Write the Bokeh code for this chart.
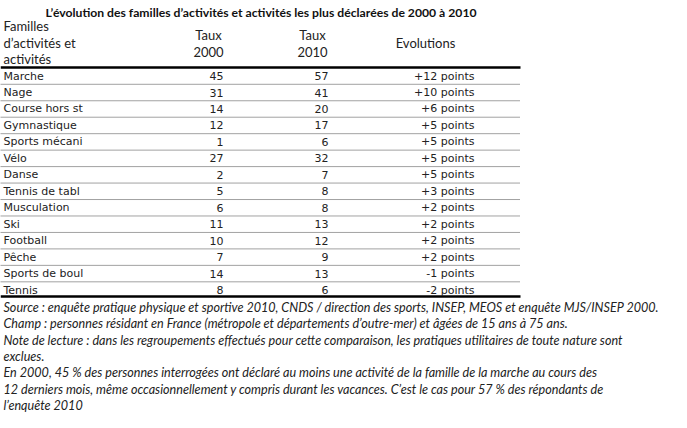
from bokeh.plotting import figure
from bokeh.models import ColumnDataSource, Range1d
from bokeh.core.properties import value
from bokeh.embed import file_html
from bokeh.resources import INLINE

title = "L\u2019évolution des familles d\u2019activités et activités les plus déclarées de 2000 à 2010"
header_col1 = ["Familles", "d\u2019activités et", "activités"]
header_taux = ["Taux", "Taux"]
header_years = ["2000", "2010"]
header_evol = "Evolutions"

activities = ["Marche", "Nage", "Course hors st", "Gymnastique", "Sports mécani", "Vélo",
              "Danse", "Tennis de tabl", "Musculation", "Ski", "Football", "Pêche",
              "Sports de boul", "Tennis"]
taux_2000 = [45, 31, 14, 12, 1, 27, 2, 5, 6, 11, 10, 7, 14, 8]
taux_2010 = [57, 41, 20, 17, 6, 32, 7, 8, 8, 13, 12, 9, 13, 6]
evolutions = ["+12 points", "+10 points", "+6 points", "+5 points", "+5 points", "+5 points",
              "+5 points", "+3 points", "+2 points", "+2 points", "+2 points", "+2 points",
              "-1 points", "-2 points"]

notes = [
    "Source : enquête pratique physique et sportive 2010, CNDS / direction des sports, INSEP, MEOS et enquête MJS/INSEP 2000.",
    "Champ : personnes résidant en France (métropole et départements d\u2019outre-mer) et âgées de 15 ans à 75 ans.",
    "Note de lecture : dans les regroupements effectués pour cette comparaison, les pratiques utilitaires de toute nature sont",
    "exclues.",
    "En 2000, 45 % des personnes interrogées ont déclaré au moins une activité de la famille de la marche au cours des",
    "12 derniers mois, même occasionnellement y compris durant les vacances. C\u2019est le cas pour 57 % des répondants de",
    "l\u2019enquête 2010",
]

# layout (page-like coordinates, y downward)
ROW0, PITCH = 78.5, 17.1
n = len(activities)
row_y = [ROW0 + i * PITCH for i in range(n)]

p = figure(width=671, height=412, output_backend="svg", toolbar_location=None,
           x_range=Range1d(0, 671), y_range=Range1d(428, 0),
           min_border=0, background_fill_color="white", border_fill_color="white")
p.axis.visible = False
p.grid.visible = False
p.outline_line_color = None

# title
p.text(x=[45], y=[12], text=[title], text_font=value("Lato"), text_font_style="bold",
       text_font_size="12.2px", text_baseline="middle", text_color="#111111")

# header
hfont = dict(text_font=value("Lato"), text_font_size="13px", text_baseline="middle",
             text_color="#222222")
p.text(x=[3, 3, 3], y=[27, 44, 61], text=header_col1, **hfont)
p.text(x=[208, 312], y=[36, 36], text=header_taux, text_align="center", **hfont)
p.text(x=[208, 312], y=[53, 53], text=header_years, text_align="center", **hfont)
p.text(x=[425], y=[44.5], text=[header_evol], text_align="center", **hfont)

# rules
p.segment(x0=[0, 0], x1=[520, 520], y0=[69.5, 307.5], y1=[69.5, 307.5],
          line_color="black", line_width=2.5)
sep_y = [y + PITCH / 2 for y in row_y[:-1]]
p.segment(x0=[0] * len(sep_y), x1=[520] * len(sep_y), y0=sep_y, y1=sep_y,
          line_color="#444444", line_width=1, line_dash="1 1")

src = ColumnDataSource(dict(y=row_y, act=activities, a=[str(v) for v in taux_2000],
                            b=[str(v) for v in taux_2010], ev=evolutions))
bfont = dict(text_font=value("DejaVu Sans"), text_font_size="11px", text_baseline="middle",
             text_color="#222222", source=src)
p.text(x=3, y="y", text="act", **bfont)
p.text(x=223, y="y", text="a", text_align="right", **bfont)
p.text(x=328, y="y", text="b", text_align="right", **bfont)
p.text(x=474, y="y", text="ev", text_align="right", **bfont)

# notes
note_y = [318.5 + i * 17.1 for i in range(len(notes))]
p.text(x=[3] * len(notes), y=note_y, text=notes, text_font=value("Lato"),
       text_font_style="italic", text_font_size="12.6px", text_baseline="middle",
       text_color="#222222")

open("out.html", "w").write(file_html(p, INLINE))
